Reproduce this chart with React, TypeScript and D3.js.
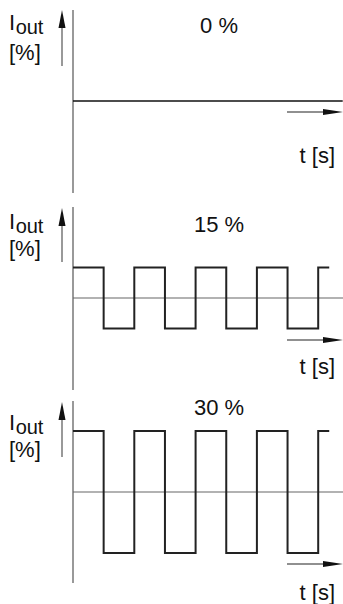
import React from "react";
import * as d3 from "d3";

// ---- data ----
const levels = [0, 15, 30]; // pulse amplitude in %
const titles = ["0 %", "15 %", "30 %"];
const edgeTimes = [0.5, 1, 1.5, 2, 2.5, 3, 3.5, 4]; // level changes (periods)
const waveEnd = 4.18;
const flatEnd = 4.4;
const yLabel = "[%]";
const xLabel = "t [s]";

// ---- layout (per panel, absolute page px) ----
const W = 343;
const H = 604;
const layout = [
  { axisTop: 10, axisBot: 193, mid: 101, arrowY: 112, tBase: 163, iBase: 30, pctBase: 60, titleBase: 33, arrTop: 10, arrBot: 66 },
  { axisTop: 207, axisBot: 390, mid: 298, arrowY: 340, tBase: 374, iBase: 229, pctBase: 256, titleBase: 232, arrTop: 208, arrBot: 262 },
  { axisTop: 401, axisBot: 583, mid: 492, arrowY: 564, tBase: 600, iBase: 430, pctBase: 457, titleBase: 415, arrTop: 402, arrBot: 457 },
];

const x = d3.scaleLinear().domain([0, 1]).range([73, 134.3]);
const font = "'Liberation Sans', Arial, Helvetica, sans-serif";

function wavePoints(level: number): [number, number][] {
  if (level === 0) return [[0, 0], [flatEnd, 0]];
  const pts: [number, number][] = [[0, level]];
  let cur = level;
  edgeTimes.forEach((t) => {
    pts.push([t, cur]);
    cur = -cur;
    pts.push([t, cur]);
  });
  pts.push([waveEnd, cur]);
  return pts;
}

export default function App() {
  return (
    <svg width={W} height={H} style={{ position: "absolute", left: 0, top: 0 }}>
      <rect width={W} height={H} fill="#fff" />
      {levels.map((lv, i) => {
        const L = layout[i];
        const y = d3.scaleLinear().domain([-30, 30]).range([L.mid + 61, L.mid - 61]);
        const line = d3
          .line<[number, number]>()
          .x((d) => x(d[0]))
          .y((d) => y(d[1]));
        const ax = x(0);
        return (
          <g key={i}>
            {/* vertical axis */}
            <line x1={ax} x2={ax} y1={L.axisTop} y2={L.axisBot} stroke="#555" strokeWidth={1.2} />
            {/* mid line */}
            {lv !== 0 && (
              <line x1={ax} x2={W} y1={y(0)} y2={y(0)} stroke="#666" strokeWidth={1.2} />
            )}
            {/* wave */}
            <path
              d={line(wavePoints(lv)) || ""}
              fill="none"
              stroke={lv === 0 ? "#111" : "#222"}
              strokeWidth={lv === 0 ? 1.3 : 2}
              strokeLinejoin="miter"
            />
            {/* small y arrow */}
            <line x1={62} x2={62} y1={L.arrTop + 12} y2={L.arrBot} stroke="#555" strokeWidth={1.2} />
            <path d={`M62,${L.arrTop} L65.5,${L.arrTop + 18} L58.5,${L.arrTop + 18} Z`} fill="#111" />
            {/* small x arrow */}
            <line x1={287} x2={328} y1={L.arrowY} y2={L.arrowY} stroke="#222" strokeWidth={1.2} />
            <path d={`M343,${L.arrowY} L323,${L.arrowY - 3} L323,${L.arrowY + 3} Z`} fill="#111" />
            {/* texts */}
            <text x={219} y={L.titleBase} textAnchor="middle" fontFamily={font} fontSize={22} fill="#111">
              {titles[i]}
            </text>
            <text x={9} y={L.iBase} fontFamily={font} fontSize={22} fill="#111">
              I
              <tspan dx={0.5} dy={4} fontSize={20}>out</tspan>
            </text>
            <text x={9} y={L.pctBase} fontFamily={font} fontSize={22} fill="#111">
              {yLabel}
            </text>
            <text x={335} y={L.tBase} textAnchor="end" fontFamily={font} fontSize={22} fill="#111">
              {xLabel}
            </text>
          </g>
        );
      })}
    </svg>
  );
}
